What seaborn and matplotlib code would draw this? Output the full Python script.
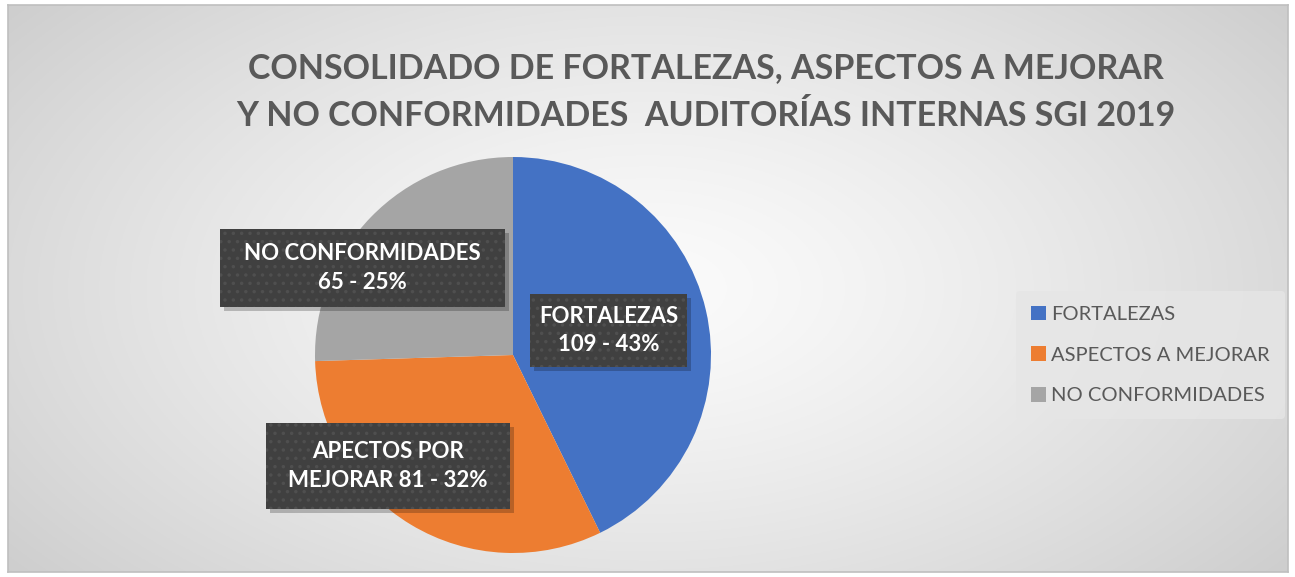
import numpy as np
import matplotlib
matplotlib.use('Agg')
import matplotlib.pyplot as plt
from matplotlib.patches import Rectangle
import seaborn as sns

categorias = ['FORTALEZAS', 'ASPECTOS A MEJORAR', 'NO CONFORMIDADES']
valores = [109, 81, 65]
porcentajes = [43, 32, 25]
etiquetas = ['FORTALEZAS\n109 - 43%', 'APECTOS POR\nMEJORAR 81 - 32%', 'NO CONFORMIDADES\n65 - 25%']
colores = ['#4472C4', '#ED7D31', '#A5A5A5']
titulo = 'CONSOLIDADO DE FORTALEZAS, ASPECTOS A MEJORAR\nY NO CONFORMIDADES  AUDITORÍAS INTERNAS SGI 2019'

sns.set_theme(style='white')
plt.rcParams['font.family'] = ['Lato', 'DejaVu Sans']
plt.rcParams['hatch.linewidth'] = 1.3

W, H = 1295, 577
fig = plt.figure(figsize=(W / 100, H / 100), dpi=100)
fig.patch.set_facecolor('white')

# background: radial gradient of the chart area
bg = fig.add_axes([8 / W, 1 - 572 / H, 1280 / W, 567 / H])
yy, xx = np.mgrid[0:1:300j, 0:1:600j]
r = np.sqrt(((xx - 0.5) / 0.75) ** 2 + ((yy - 0.5) / 0.95) ** 2)
g = 0.985 - 0.22 * np.clip(r, 0, 1.2) ** 1.3
bg.imshow(np.dstack([g, g, g]), aspect='auto', extent=[0, 1, 0, 1])
bg.set_xticks([])
bg.set_yticks([])
for s in bg.spines.values():
    s.set_color('#bfbfbf')
    s.set_linewidth(1.2)

# pie
cx, cy, rad = 513, 355, 198
ax = fig.add_axes([(cx - rad) / W, 1 - (cy + rad) / H, 2 * rad / W, 2 * rad / H])
ax.pie(valores, colors=colores, startangle=90, counterclock=False,
       wedgeprops=dict(linewidth=0))
ax.set_aspect('auto')
ax.set_xlim(-1, 1)
ax.set_ylim(-1, 1)

fig.text(706 / W, 1 - 92 / H, titulo, ha='center', va='center', fontsize=24.5,
         fontweight='bold', color='#595959', linespacing=1.6)

# data label boxes (x0, y0, x1, y1 in pixels from top-left)
cajas = [(530, 294, 687, 367), (266, 423, 510, 509), (220, 229, 505, 307)]
for (x0, y0, x1, y1), lab in zip(cajas, etiquetas):
    sh = Rectangle((x0 + 4, H - y1 - 4), x1 - x0, y1 - y0, transform=None,
                   facecolor='black', alpha=0.22, edgecolor='none', zorder=5)
    box = Rectangle((x0, H - y1), x1 - x0, y1 - y0, transform=None,
                    facecolor='#404040', edgecolor='#4f4f4f', linewidth=0,
                    hatch='..', zorder=6)
    fig.add_artist(sh)
    fig.add_artist(box)
    fig.text((x0 + x1) / 2 / W, 1 - (y0 + y1) / 2 / H, lab, ha='center',
             va='center', fontsize=16, fontweight='bold', color='white',
             linespacing=1.45, zorder=7)

# legend
handles = [Rectangle((0, 0), 1, 1, facecolor=c, edgecolor='none') for c in colores]
leg = fig.legend(handles, categorias, loc='center left',
                 bbox_to_anchor=(1016 / W, 1 - 355 / H), borderaxespad=0,
                 fontsize=14.5, frameon=True, facecolor='#e6e6e6', edgecolor='none',
                 handlelength=0.75, handleheight=0.75, handletextpad=0.25,
                 labelspacing=1.15, borderpad=0.75, labelcolor='#595959')
leg.get_frame().set_alpha(0.8)

fig.savefig('out.png', dpi=100)
